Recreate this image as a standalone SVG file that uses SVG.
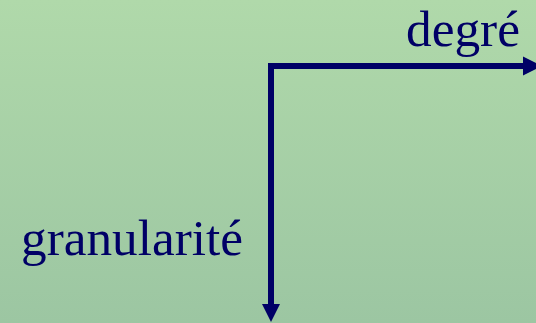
<svg xmlns="http://www.w3.org/2000/svg" width="536" height="323" viewBox="0 0 536 323">
<defs>
<linearGradient id="bg" x1="0" y1="0" x2="0" y2="1">
<stop offset="0" stop-color="#b0d9aa"/>
<stop offset="1" stop-color="#9cc6a2"/>
</linearGradient>
</defs>
<style>
.lbl{font-family:"Liberation Serif","Times New Roman",serif;font-size:51px;fill:#000066}
.ax{stroke:#000066;stroke-width:6;fill:none}
.hd{fill:#000066}
</style>
<rect width="536" height="323" fill="url(#bg)"/>
<g id="connectors">
<path class="ax" d="M268,66 H526"/>
<polygon class="hd" points="523,56.5 542,66 523,75.5"/>
<path class="ax" d="M271,63 V306"/>
<polygon class="hd" points="262,304 280,304 271,322"/>
</g>
<g id="degre"><text class="lbl" x="406" y="46" textLength="114" lengthAdjust="spacingAndGlyphs">degré</text></g>
<g id="granularite"><text class="lbl" x="21" y="255" textLength="222" lengthAdjust="spacingAndGlyphs">granularité</text></g>
</svg>
